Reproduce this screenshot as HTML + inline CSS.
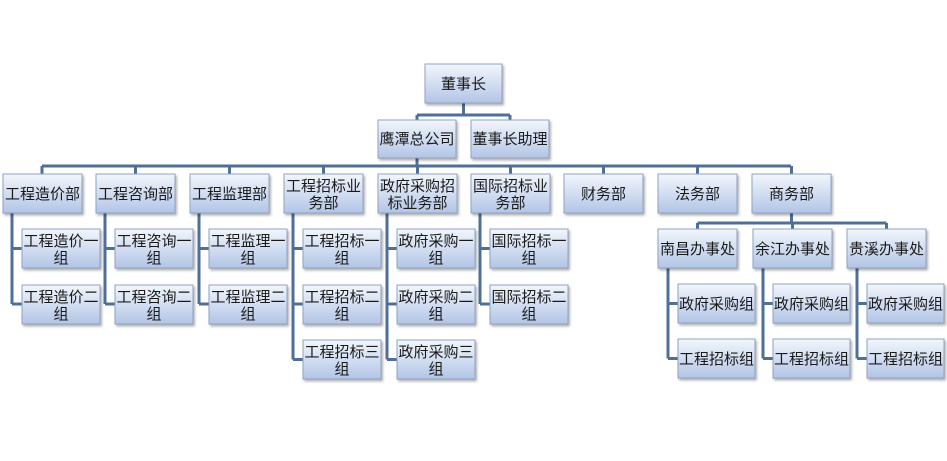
<!DOCTYPE html>
<html><head><meta charset="utf-8"><style>
html,body{margin:0;padding:0;background:#fff;}
svg{display:block;}
text{font-family:"Liberation Sans","Noto Sans CJK SC",sans-serif;font-size:15px;fill:#1a1a1a;text-anchor:middle;}
</style></head><body>
<svg width="947" height="461" viewBox="0 0 947 461" xmlns="http://www.w3.org/2000/svg">
<defs>
<linearGradient id="g" x1="0" y1="0" x2="0" y2="1">
<stop offset="0" stop-color="#f2f6fc"/><stop offset="1" stop-color="#b2c5e6"/>
</linearGradient>
<filter id="s" x="-10%" y="-10%" width="130%" height="140%"><feDropShadow dx="1.5" dy="2" stdDeviation="1.2" flood-color="#000" flood-opacity="0.3"/></filter>
</defs>
<g stroke="#4f6f98" stroke-width="3" fill="none">
<path d="M463.5 103V115M417 115H510M417 115V120M510 115V120M417 158V166"/>
<path d="M42 166H791M42 166V174M135.5 166V174M229.5 166V174M323.5 166V174M417.5 166V174M510.5 166V174M603.5 166V174M697.5 166V174M791.5 166V174"/>
<path d="M12 213V304M12 248.5H22M12 304H22"/>
<path d="M105 213V304M105 248.5H115M105 304H115"/>
<path d="M199 213V304M199 248.5H209M199 304H209"/>
<path d="M293 213V359.5M293 248.5H303M293 304H303M293 359.5H303"/>
<path d="M387 213V359.5M387 248.5H397M387 304H397M387 359.5H397"/>
<path d="M480 213V304M480 248.5H490M480 304H490"/>
<path d="M791.5 213V223M697.5 223H886.5M697.5 223V229M792.5 223V229M886.5 223V229"/>
<path d="M668 268V358.5M668 303.5H678M668 358.5H678"/>
<path d="M763 268V358.5M763 303.5H773M763 358.5H773"/>
<path d="M857 268V358.5M857 303.5H867M857 358.5H867"/>
</g>
<g fill="url(#g)" stroke="#8fa3c2" stroke-width="1" filter="url(#s)">
<rect x="425" y="64" width="77" height="39"/>
<rect x="378" y="120" width="78" height="38"/>
<rect x="471" y="120" width="78" height="38"/>
<rect x="3" y="174" width="79" height="39"/>
<rect x="96" y="174" width="79" height="39"/>
<rect x="190" y="174" width="79" height="39"/>
<rect x="284" y="174" width="79" height="39"/>
<rect x="378" y="174" width="79" height="39"/>
<rect x="471" y="174" width="79" height="39"/>
<rect x="564" y="174" width="79" height="39"/>
<rect x="658" y="174" width="79" height="39"/>
<rect x="752" y="174" width="79" height="39"/>
<rect x="22" y="229" width="78" height="39"/><rect x="22" y="285" width="78" height="39"/>
<rect x="115" y="229" width="78" height="39"/><rect x="115" y="285" width="78" height="39"/>
<rect x="209" y="229" width="78" height="39"/><rect x="209" y="285" width="78" height="39"/>
<rect x="303" y="229" width="78" height="39"/><rect x="303" y="285" width="78" height="39"/><rect x="303" y="340" width="78" height="39"/>
<rect x="397" y="229" width="78" height="39"/><rect x="397" y="285" width="78" height="39"/><rect x="397" y="340" width="78" height="39"/>
<rect x="490" y="229" width="78" height="39"/><rect x="490" y="285" width="78" height="39"/>
<rect x="658" y="229" width="79" height="39"/><rect x="753" y="229" width="79" height="39"/><rect x="847" y="229" width="79" height="39"/>
<rect x="678" y="284" width="77" height="39"/><rect x="678" y="339" width="77" height="39"/>
<rect x="773" y="284" width="77" height="39"/><rect x="773" y="339" width="77" height="39"/>
<rect x="867" y="284" width="77" height="39"/><rect x="867" y="339" width="77" height="39"/>
</g>
<g>
<text x="463.5" y="89">董事长</text>
<text x="417" y="144">鹰潭总公司</text>
<text x="510" y="144">董事长助理</text>
<text x="42.5" y="199">工程造价部</text>
<text x="135.5" y="199">工程咨询部</text>
<text x="229.5" y="199">工程监理部</text>
<text x="323.5" y="191">工程招标业</text><text x="323.5" y="208">务部</text>
<text x="417.5" y="191">政府采购招</text><text x="417.5" y="208">标业务部</text>
<text x="510.5" y="191">国际招标业</text><text x="510.5" y="208">务部</text>
<text x="603.5" y="199">财务部</text>
<text x="697.5" y="199">法务部</text>
<text x="791.5" y="199">商务部</text>
<text x="61" y="246">工程造价一</text><text x="61" y="263">组</text>
<text x="61" y="302">工程造价二</text><text x="61" y="319">组</text>
<text x="154" y="246">工程咨询一</text><text x="154" y="263">组</text>
<text x="154" y="302">工程咨询二</text><text x="154" y="319">组</text>
<text x="248" y="246">工程监理一</text><text x="248" y="263">组</text>
<text x="248" y="302">工程监理二</text><text x="248" y="319">组</text>
<text x="342" y="246">工程招标一</text><text x="342" y="263">组</text>
<text x="342" y="302">工程招标二</text><text x="342" y="319">组</text>
<text x="342" y="357">工程招标三</text><text x="342" y="374">组</text>
<text x="436" y="246">政府采购一</text><text x="436" y="263">组</text>
<text x="436" y="302">政府采购二</text><text x="436" y="319">组</text>
<text x="436" y="357">政府采购三</text><text x="436" y="374">组</text>
<text x="529" y="246">国际招标一</text><text x="529" y="263">组</text>
<text x="529" y="302">国际招标二</text><text x="529" y="319">组</text>
<text x="697.5" y="254">南昌办事处</text>
<text x="792.5" y="254">余江办事处</text>
<text x="886.5" y="254">贵溪办事处</text>
<text x="716.5" y="309">政府采购组</text><text x="716.5" y="364">工程招标组</text>
<text x="811.5" y="309">政府采购组</text><text x="811.5" y="364">工程招标组</text>
<text x="905.5" y="309">政府采购组</text><text x="905.5" y="364">工程招标组</text>
</g>
</svg>
</body></html>
